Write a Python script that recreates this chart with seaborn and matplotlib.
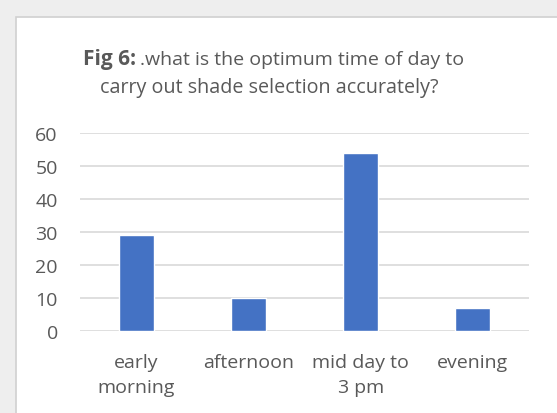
import matplotlib
matplotlib.use("Agg")
import matplotlib.pyplot as plt
import seaborn as sns
import pandas as pd
from matplotlib.patches import Rectangle

# values
categories = ["early\nmorning", "afternoon", "mid day to\n3 pm", "evening"]
counts = [29, 10, 54, 7]
yticks = [0, 10, 20, 30, 40, 50, 60]

df = pd.DataFrame({"time": categories, "count": counts})

sns.set_style("white")
plt.rcParams["font.family"] = ["Open Sans", "DejaVu Sans"]

W, H = 557, 414
fig = plt.figure(figsize=(W / 100, H / 100), dpi=100)
fig.patch.set_facecolor("#eeeeee")

# white chart area with thin grey border (Excel-like frame)
frame = Rectangle((16 / W, -0.05), 1.1, 1 - 18 / H + 0.05, transform=fig.transFigure,
                  facecolor="white", edgecolor="#d0d0d0", linewidth=1.2, zorder=-5)
fig.patches.append(frame)

ax = fig.add_axes([80 / W, 1 - 332 / H, (529 - 80) / W, (332 - 134) / H])
ax.set_zorder(2)
ax.set_facecolor("none")
sns.barplot(data=df, x="time", y="count", color="#4472C4", width=0.31,
            saturation=1, ax=ax, zorder=3)

ax.set_ylim(0, 60)
ax.set_yticks(yticks)
ax.yaxis.grid(True, color="#d9d9d9", linewidth=1.2)
ax.set_axisbelow(True)
for s in ax.spines.values():
    s.set_visible(False)
ax.tick_params(axis="both", length=0, labelsize=14, labelcolor="#595959")
ax.tick_params(axis="x", pad=16)
ax.tick_params(axis="y", pad=16)
for lbl in ax.get_xticklabels():
    lbl.set_linespacing(1.45)
ax.set_xlabel("")
ax.set_ylabel("")
ax.set_xlim(-0.5, 3.5)

# title: bold "Fig 6:" followed by regular text
fig.text(136 / W, 1 - 60 / H, "Fig 6:", ha="right", va="center", fontsize=15,
         fontweight="bold", color="#595959", zorder=5)
fig.text(140 / W, 1 - 60 / H, ".what is the optimum time of day to", ha="left",
         va="center", fontsize=14, color="#595959", zorder=5)
fig.text(269 / W, 1 - 88 / H, "carry out shade selection accurately?", ha="center",
         va="center", fontsize=14.2, color="#595959", zorder=5)

plt.savefig("out.png", dpi=100, facecolor=fig.get_facecolor())
